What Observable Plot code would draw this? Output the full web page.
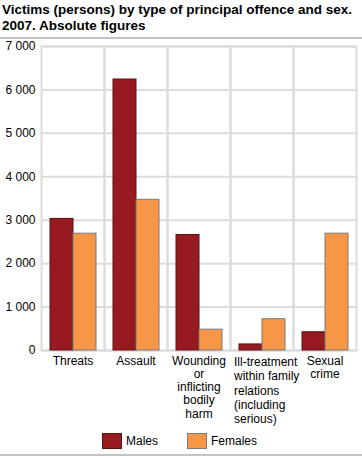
<!DOCTYPE html>
<html><head><meta charset="utf-8">
<script src="https://cdn.jsdelivr.net/npm/d3@7"></script>
<script src="https://cdn.jsdelivr.net/npm/@observablehq/plot@0.6"></script>
<style>
body{margin:0;background:#fff;font-family:"Liberation Sans",Arial,sans-serif;color:#000;width:362px;overflow:hidden}
#title{font-weight:bold;font-size:13.5px;line-height:16px;padding:2px 0 0 2px;height:37px;box-sizing:border-box;white-space:nowrap}
.rule{height:0;border-top:2px solid #c4c4c4}
#chart svg{display:block}
#legend{position:relative;height:35px;font-size:12px}
.item{position:absolute;top:14px;display:flex;align-items:center}
.sw{width:18px;height:14px;margin-right:4px}
</style></head><body>
<div id="title">Victims (persons) by type of principal offence and sex.<br>2007. Absolute figures</div>
<div class="rule"></div>
<div id="chart"></div>
<div id="legend"></div>
<div class="rule"></div>
<script>
const categories = ["Threats","Assault","Wounding or inflicting bodily harm","Ill-treatment within family relations (including serious)","Sexual crime"];
const categoryLabels = ["Threats","Assault","Wounding\nor\ninflicting\nbodily\nharm","Ill-treatment\nwithin family\nrelations\n(including\nserious)","Sexual\ncrime"];
const series = ["Males","Females"];
const males = [3030, 6240, 2660, 140, 420];
const females = [2690, 3470, 480, 720, 2690];
const colors = ["#961a20","#f79646"];
const strokes = ["#5a1214","#7a7a7a"];
const yTicks = [0,1000,2000,3000,4000,5000,6000,7000];

const values = [males, females];
const data = [];
series.forEach((s, si) => categories.forEach((c, ci) => data.push({category: c, sex: s, value: values[si][ci]})));
const labels = categories.map((c, i) => ({category: c, label: categoryLabels[i]}));
const fmt = d => d3.format(",")(d).replace(/,/g, " ");

const chart = Plot.plot({
  width: 362, height: 380,
  marginLeft: 39, marginRight: 5, marginTop: 7, marginBottom: 69,
  style: {fontFamily: '"Liberation Sans",Arial,sans-serif', fontSize: "12px", color: "#000", background: "#fff", overflow: "visible"},
  fx: {domain: categories, padding: 0, axis: null},
  x: {domain: series, axis: null, paddingInner: 0, paddingOuter: 0.36},
  y: {domain: [0, 7000], ticks: yTicks, tickFormat: fmt, tickSize: 0, tickPadding: 6, label: null},
  marks: [
    Plot.ruleY(yTicks, {stroke: "#dcdcdc", strokeWidth: 2}),
    Plot.frame({stroke: "#dcdcdc", strokeWidth: 2}),
    ...series.map((s, i) => Plot.barY(data.filter(d => d.sex === s), {fx: "category", x: "sex", y: "value", fill: colors[i], stroke: strokes[i], strokeWidth: 1})),
    Plot.text(labels.filter((d, i) => i !== 3), {fx: "category", text: "label", frameAnchor: "bottom", lineAnchor: "top", dy: 5, lineHeight: 1.1, fill: "#000"}),
    Plot.text(labels.filter((d, i) => i === 3), {fx: "category", text: "label", frameAnchor: "bottom", lineAnchor: "top", dy: 5, dx: -28, textAnchor: "start", lineHeight: 1.2, fill: "#000"})
  ]
});
document.getElementById("chart").appendChild(chart);

const legend = document.getElementById("legend");
const lx = [102, 187];
series.forEach((s, i) => {
  const it = document.createElement("div");
  it.className = "item";
  it.style.left = lx[i] + "px";
  it.innerHTML = `<div class="sw" style="background:${colors[i]};border:1px solid ${strokes[i]}"></div><span>${s}</span>`;
  legend.appendChild(it);
});
</script>
</body></html>
